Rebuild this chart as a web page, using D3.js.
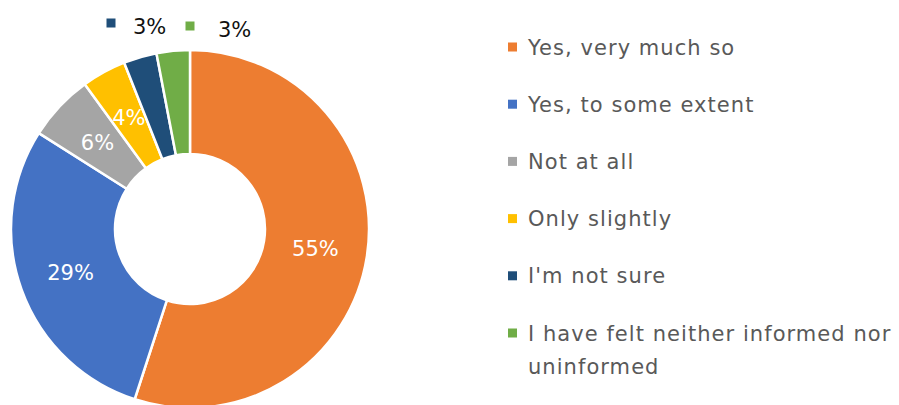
<!DOCTYPE html>
<html>
<head>
<meta charset="utf-8">
<script src="https://cdn.jsdelivr.net/npm/d3@7"></script>
<style>
  html, body { margin: 0; padding: 0; background: #fff; }
  svg { display: block; }
  text { font-family: "DejaVu Sans", Verdana, sans-serif; }
</style>
</head>
<body>
<svg id="chart" width="899" height="405"></svg>
<script>
// Survey answers, in drawing order (clockwise from 12 o'clock)
const categories = [
  "Yes, very much so",
  "Yes, to some extent",
  "Not at all",
  "Only slightly",
  "I'm not sure",
  "I have felt neither informed nor uninformed"
];
const values = [55, 29, 6, 4, 3, 3];
const colors = ["#ED7D31", "#4472C4", "#A5A5A5", "#FFC000", "#1F4E79", "#70AD47"];
// Legend lines (long answer wraps onto two lines)
const legendLines = [
  ["Yes, very much so"],
  ["Yes, to some extent"],
  ["Not at all"],
  ["Only slightly"],
  ["I'm not sure"],
  ["I have felt neither informed nor", "uninformed"]
];

const svg = d3.select("#chart");
const cx = 190, cy = 229, outerR = 179, innerR = 75;

const data = categories.map((c, i) => ({ cat: c, value: values[i], color: colors[i], idx: i }));

const pie = d3.pie().value(d => d.value).sort(null);
const arc = d3.arc().innerRadius(innerR).outerRadius(outerR);
const labelArc = d3.arc().innerRadius((innerR + outerR) / 2).outerRadius((innerR + outerR) / 2);

const g = svg.append("g").attr("transform", `translate(${cx},${cy})`);
const arcs = pie(data);

g.selectAll("path.slice")
  .data(arcs)
  .join("path")
  .attr("class", "slice")
  .attr("d", arc)
  .attr("fill", d => d.data.color)
  .attr("stroke", "#fff")
  .attr("stroke-width", 2.5)
  .attr("stroke-linejoin", "round");

// Labels inside the larger slices
g.selectAll("text.inlabel")
  .data(arcs.filter(d => d.data.value >= 4))
  .join("text")
  .attr("class", "inlabel")
  .attr("transform", d => `translate(${labelArc.centroid(d)})`)
  .attr("text-anchor", "middle")
  .attr("dy", "0.36em")
  .attr("fill", "#fff")
  .attr("font-size", 21)
  .text(d => d.data.value + "%");

// Callout labels for the two thin slices, shown above the ring with a key
const callouts = arcs.filter(d => d.data.value < 4);
const calloutPos = [{ x: 111, y: 23 }, { x: 190, y: 26 }];
callouts.forEach((d, i) => {
  const p = calloutPos[i];
  svg.append("rect")
    .attr("x", p.x - 4.5).attr("y", p.y - 4.5)
    .attr("width", 9).attr("height", 9)
    .attr("fill", d.data.color);
  svg.append("text")
    .attr("x", p.x + (i === 0 ? 22 : 28))
    .attr("y", p.y + 3)
    .attr("dy", "0.36em")
    .attr("fill", "#111")
    .attr("font-size", 21)
    .text(d.data.value + "%");
});

// Legend
const legend = svg.append("g").attr("transform", "translate(508,0)");
const rowTop = 47, rowStep = 57.2, lineStep = 33;
data.forEach((d, i) => {
  const y = rowTop + i * rowStep;
  legend.append("rect")
    .attr("x", 0).attr("y", y - 4.5)
    .attr("width", 9).attr("height", 9)
    .attr("fill", d.color);
  const t = legend.append("text")
    .attr("x", 20).attr("y", y)
    .attr("fill", "#595959")
    .attr("font-size", 21)
    .attr("letter-spacing", 1.05);
  legendLines[i].forEach((ln, j) => {
    t.append("tspan")
      .attr("x", 20)
      .attr("y", y + j * lineStep)
      .attr("dy", "0.36em")
      .text(ln);
  });
});
</script>
</body>
</html>
